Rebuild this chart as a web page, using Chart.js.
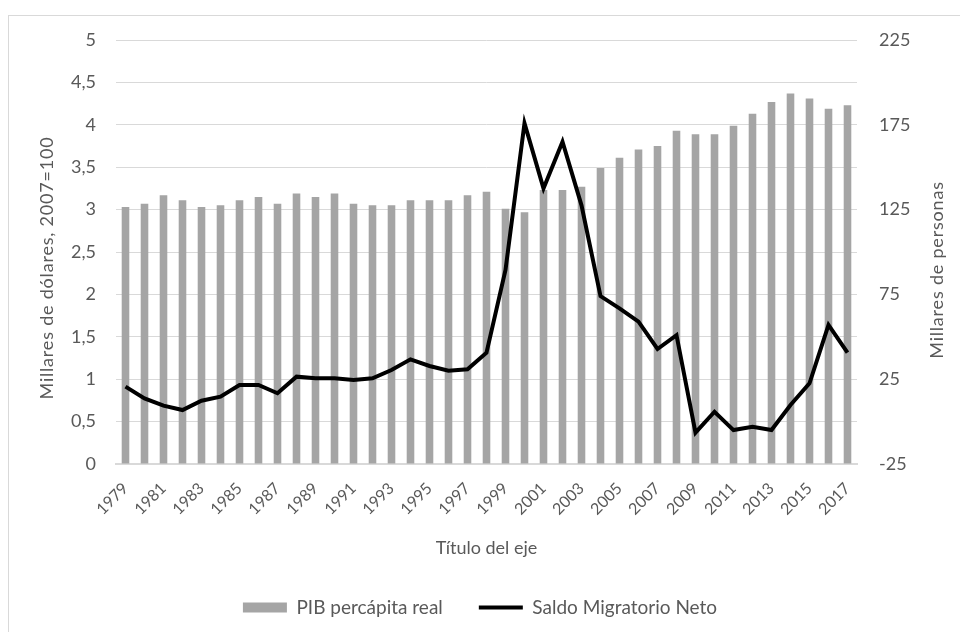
<!DOCTYPE html>
<html>
<head>
<meta charset="utf-8">
<script src="https://cdn.jsdelivr.net/npm/chart.js@4.4.1/dist/chart.umd.min.js"></script>
<style>
  html, body { margin: 0; padding: 0; background: #fff; }
  #myChart { display: block; }
</style>
</head>
<body>
<canvas id="myChart" width="960" height="632"></canvas>
<script>
// años 1979-2017
const years = ['1979','1980','1981','1982','1983','1984','1985','1986','1987','1988',
  '1989','1990','1991','1992','1993','1994','1995','1996','1997','1998',
  '1999','2000','2001','2002','2003','2004','2005','2006','2007','2008',
  '2009','2010','2011','2012','2013','2014','2015','2016','2017'];

// PIB percapita real (millares de dolares, eje izq.)
const pib = [3.03, 3.07, 3.17, 3.11, 3.03, 3.05, 3.11, 3.15, 3.07, 3.19,
  3.15, 3.19, 3.07, 3.05, 3.05, 3.11, 3.11, 3.11, 3.17, 3.21,
  3.01, 2.97, 3.23, 3.23, 3.27, 3.49, 3.61, 3.71, 3.75, 3.93,
  3.89, 3.89, 3.99, 4.13, 4.27, 4.37, 4.31, 4.19, 4.23];

// saldo migratorio neto (millares de personas, eje der.)
const saldo = [20.6, 13.7, 9.4, 6.8, 12.3, 14.7, 21.6, 21.6, 16.7, 26.5,
  25.5, 25.5, 24.6, 25.5, 30.4, 36.7, 32.8, 30.0, 30.8, 40.6,
  89.4, 175.9, 137.5, 165.0, 127.5, 74.0, 66.8, 58.9, 42.8, 51.0,
  -6.5, 5.8, -5.0, -3.0, -5.0, 9.8, 22.6, 57.0, 40.6];

const leftTicks = [0, 5, 0.5];
const rightTicks = [-25, 225, 50];

const txt = '#595959';
const grid = '#d9d9d9';
const fontFam = 'Lato, "Open Sans", sans-serif';

function vTitle(c, text, x, y) {
  c.save();
  c.translate(x, y);
  c.rotate(-Math.PI / 2);
  c.fillStyle = txt;
  c.font = '18px ' + fontFam;
  c.letterSpacing = '0.8px';
  c.textAlign = 'center';
  c.textBaseline = 'middle';
  c.fillText(text, 0, 0);
  c.restore();
}

const borderPlugin = {
  id: 'outerBox',
  beforeDraw(chart) {
    const c = chart.ctx;
    c.save();
    c.fillStyle = '#fff';
    c.fillRect(0, 0, chart.width, chart.height);
    c.strokeStyle = grid;
    c.lineWidth = 1;
    c.strokeRect(8.5, 15.5, 1000, 1000);
    c.restore();
  },
  afterDraw(chart) {
    // titulos verticales, leidos de abajo hacia arriba
    vTitle(chart.ctx, 'Millares de dólares, 2007=100', 47, 268);
    vTitle(chart.ctx, 'Millares de personas', 937, 270);
  }
};

const ctx = document.getElementById('myChart').getContext('2d');
new Chart(ctx, {
  type: 'bar',
  data: {
    labels: years,
    datasets: [{
      type: 'bar',
      label: 'PIB percápita real',
      data: pib,
      yAxisID: 'y',
      backgroundColor: '#a5a5a5',
      barPercentage: 0.4,
      categoryPercentage: 1,
      pointStyle: 'rect',
      order: 2
    }, {
      type: 'line',
      label: 'Saldo Migratorio Neto',
      data: saldo,
      yAxisID: 'y2',
      borderColor: '#000',
      backgroundColor: '#000',
      borderWidth: 4,
      pointRadius: 0,
      tension: 0,
      pointStyle: 'line',
      order: 1
    }]
  },
  options: {
    responsive: false,
    animation: false,
    layout: { padding: { top: 40, left: 0, right: 0, bottom: 5 } },
    plugins: {
      tooltip: { enabled: false },
      legend: {
        position: 'bottom',
        labels: {
          usePointStyle: true,
          pointStyleWidth: 44,
          boxHeight: 10,
          padding: 36,
          color: txt,
          font: { family: fontFam, size: 19 },
          sort: (a, b) => a.datasetIndex - b.datasetIndex
        }
      }
    },
    scales: {
      x: {
        grid: { display: false },
        border: { color: grid, width: 2 },
        ticks: {
          autoSkip: false,
          minRotation: 45,
          maxRotation: 45,
          padding: 7,
          color: txt,
          font: { family: fontFam, size: 16 },
          callback: (v, i) => (i % 2 === 0 ? years[i] : '')
        },
        title: {
          display: true,
          text: 'Título del eje',
          color: txt,
          font: { family: fontFam, size: 18 },
          padding: { top: 0, bottom: 3 }
        },
        afterFit: s => { s.height = 98; }
      },
      y: {
        position: 'left',
        min: leftTicks[0],
        max: leftTicks[1],
        grid: { color: grid, drawTicks: false },
        border: { display: false },
        ticks: {
          stepSize: leftTicks[2],
          padding: 20,
          color: txt,
          font: { family: fontFam, size: 18 },
          callback: v => String(v).replace('.', ',')
        },
        afterFit: s => { s.width = 116; }
      },
      y2: {
        position: 'right',
        min: rightTicks[0],
        max: rightTicks[1],
        grid: { display: false, drawTicks: false },
        border: { display: false },
        ticks: {
          stepSize: rightTicks[2],
          padding: 22,
          color: txt,
          font: { family: fontFam, size: 18 }
        },
        afterFit: s => { s.width = 103; }
      }
    }
  },
  plugins: [borderPlugin]
});
</script>
</body>
</html>
